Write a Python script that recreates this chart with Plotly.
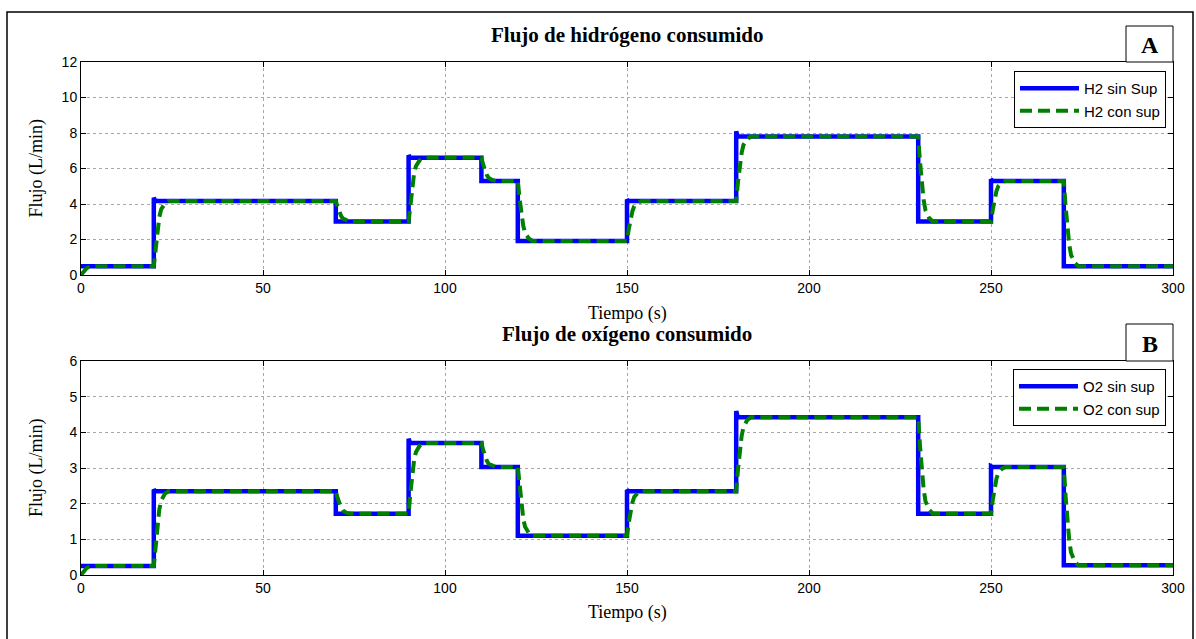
import plotly.graph_objects as go

# ---- data -------------------------------------------------------------
# Hydrogen flow, controller without supervision (step profile with small overshoots)
h2_sin_t = [0, 20, 20, 20.4, 70, 70, 90, 90, 90.4, 110, 110, 120, 120, 150, 150, 150.4,
            180, 180, 180.4, 230, 230, 250, 250, 250.4, 270, 270, 300]
h2_sin_y = [0.5, 0.5, 4.35, 4.17, 4.17, 3.02, 3.02, 6.75, 6.6, 6.6, 5.3, 5.3, 1.92, 1.92, 4.25, 4.17,
            4.17, 8.1, 7.8, 7.8, 3.02, 3.02, 5.4, 5.3, 5.3, 0.5, 0.5]

# Hydrogen flow, supervised controller (smooth transitions)
h2_con_t = [0, 0.5, 1, 1.5, 2, 3, 4,
            20, 20.5, 21, 21.5, 22, 23, 24,
            70, 70.5, 71, 71.5, 72, 73, 74,
            90, 90.5, 91, 91.5, 92, 93, 94,
            110, 110.5, 111, 111.5, 112, 113, 114,
            120, 120.5, 121, 121.5, 122, 123, 124,
            150, 150.5, 151, 151.5, 152, 153, 154,
            180, 180.5, 181, 181.5, 182, 183, 184,
            230, 230.5, 231, 231.5, 232, 233, 234,
            250, 250.5, 251, 251.5, 252, 253, 254,
            270, 270.5, 271, 271.5, 272, 273, 274,
            300]
h2_con_y = [0.0, 0.15, 0.28, 0.37, 0.43, 0.48, 0.5,
            0.5, 1.6, 2.52, 3.25, 3.69, 4.02, 4.17,
            4.17, 3.83, 3.54, 3.31, 3.17, 3.07, 3.02,
            3.02, 4.09, 4.99, 5.71, 6.13, 6.46, 6.6,
            6.6, 6.21, 5.89, 5.63, 5.47, 5.35, 5.3,
            5.3, 4.29, 3.44, 2.77, 2.36, 2.06, 1.92,
            1.92, 2.6, 3.16, 3.61, 3.88, 4.08, 4.17,
            4.17, 5.26, 6.17, 6.89, 7.33, 7.65, 7.8,
            7.8, 6.37, 5.17, 4.22, 3.64, 3.21, 3.02,
            3.02, 3.7, 4.27, 4.73, 5.0, 5.21, 5.3,
            5.3, 3.86, 2.66, 1.7, 1.12, 0.69, 0.5,
            0.5]

# Oxygen flow, controller without supervision
o2_sin_t = [0, 20, 20, 20.4, 70, 70, 90, 90, 90.4, 110, 110, 120, 120, 150, 150, 150.4,
            180, 180, 180.4, 230, 230, 250, 250, 250.4, 270, 270, 300]
o2_sin_y = [0.25, 0.25, 2.4, 2.35, 2.35, 1.72, 1.72, 3.82, 3.7, 3.7, 3.03, 3.03, 1.1, 1.1, 2.38, 2.35,
            2.35, 4.6, 4.42, 4.42, 1.72, 1.72, 3.05, 3.03, 3.03, 0.27, 0.27]

# Oxygen flow, supervised controller
o2_con_t = h2_con_t
o2_con_y = [0.0, 0.08, 0.14, 0.19, 0.22, 0.24, 0.25,
            0.25, 0.88, 1.41, 1.83, 2.08, 2.27, 2.35,
            2.35, 2.16, 2.0, 1.88, 1.8, 1.74, 1.72,
            1.72, 2.31, 2.81, 3.21, 3.44, 3.62, 3.7,
            3.7, 3.5, 3.33, 3.2, 3.12, 3.06, 3.03,
            3.03, 2.45, 1.97, 1.58, 1.35, 1.18, 1.1,
            1.1, 1.48, 1.79, 2.04, 2.19, 2.3, 2.35,
            2.35, 2.97, 3.49, 3.9, 4.15, 4.34, 4.42,
            4.42, 3.61, 2.94, 2.4, 2.07, 1.83, 1.72,
            1.72, 2.11, 2.44, 2.7, 2.86, 2.98, 3.03,
            3.03, 2.2, 1.51, 0.96, 0.63, 0.38, 0.27,
            0.27]

x_ticks = [0, 50, 100, 150, 200, 250, 300]
h2_ticks = [0, 2, 4, 6, 8, 10, 12]
o2_ticks = [0, 1, 2, 3, 4, 5, 6]

# ---- page geometry (pixels) ------------------------------------------
W, H = 1196, 639
L, R = 81, 1173          # plot left / right
TOP_A, BOT_A = 62, 275
TOP_B, BOT_B = 361, 575


def px(x):
    return (x - L) / (R - L)


def py(y):
    return (BOT_B - y) / (BOT_B - TOP_A)


SERIF = "Liberation Serif, Times New Roman, serif"
SANS = "Liberation Sans, Arial, sans-serif"
BLUE = "#0000ff"
GREEN = "#008000"

fig = go.Figure()
fig.add_trace(go.Scatter(x=h2_sin_t, y=h2_sin_y, mode="lines", name="H2 sin Sup",
                         line=dict(color=BLUE, width=4.5), xaxis="x", yaxis="y", legend="legend"))
fig.add_trace(go.Scatter(x=h2_con_t, y=h2_con_y, mode="lines", name="H2 con sup",
                         line=dict(color=GREEN, width=4, dash="12px,6px"),
                         xaxis="x", yaxis="y", legend="legend"))
fig.add_trace(go.Scatter(x=o2_sin_t, y=o2_sin_y, mode="lines", name="O2 sin sup",
                         line=dict(color=BLUE, width=4.5), xaxis="x2", yaxis="y2", legend="legend2"))
fig.add_trace(go.Scatter(x=o2_con_t, y=o2_con_y, mode="lines", name="O2 con sup",
                         line=dict(color=GREEN, width=4, dash="12px,6px"),
                         xaxis="x2", yaxis="y2", legend="legend2"))

axis_common = dict(
    showline=True, linecolor="black", linewidth=1, mirror="ticks",
    ticks="inside", ticklen=5, tickcolor="black", tickwidth=1,
    showgrid=True, gridcolor="#a8a8a8", griddash="dot", gridwidth=1,
    zeroline=False, tickfont=dict(family=SANS, size=14, color="black"),
)

legend_common = dict(
    xanchor="right", yanchor="top", bgcolor="white", bordercolor="black",
    borderwidth=1, font=dict(family=SANS, size=15, color="black"),
    itemwidth=59, tracegroupgap=0, traceorder="normal",
)

fig.update_layout(
    width=W, height=H,
    margin=dict(l=L, r=W - R, t=TOP_A, b=H - BOT_B),
    paper_bgcolor="white", plot_bgcolor="white",
    xaxis=dict(axis_common, domain=[0, 1], anchor="y", range=[0, 300], tickvals=x_ticks),
    yaxis=dict(axis_common, domain=[py(BOT_A), 1], anchor="x", range=[0, 12], tickvals=h2_ticks),
    xaxis2=dict(axis_common, domain=[0, 1], anchor="y2", range=[0, 300], tickvals=x_ticks),
    yaxis2=dict(axis_common, domain=[0, py(TOP_B)], anchor="x2", range=[0, 6], tickvals=o2_ticks),
    legend=dict(legend_common, x=px(1166), y=py(71)),
    legend2=dict(legend_common, x=px(1166), y=py(369)),
    showlegend=True,
)

annotations = []
shapes = []

# panel titles
for text, yc in [("<b>Flujo de hidrógeno consumido</b>", 35), ("<b>Flujo de oxígeno consumido</b>", 334)]:
    annotations.append(dict(text=text, x=0.5, y=py(yc), xref="paper", yref="paper",
                            xanchor="center", yanchor="middle", showarrow=False,
                            font=dict(family=SERIF, size=21, color="black")))

# axis titles
for yc in [313, 612]:
    annotations.append(dict(text="Tiempo (s)", x=0.5, y=py(yc), xref="paper", yref="paper",
                            xanchor="center", yanchor="middle", showarrow=False,
                            font=dict(family=SERIF, size=18, color="black")))
for yc in [(TOP_A + BOT_A) / 2, (TOP_B + BOT_B) / 2]:
    annotations.append(dict(text="Flujo (L/min)", x=px(36), y=py(yc), xref="paper", yref="paper",
                            xanchor="center", yanchor="middle", showarrow=False, textangle=-90,
                            font=dict(family=SERIF, size=18, color="black")))

# panel letters in boxes
for letter, y0, y1 in [("A", 26, TOP_A), ("B", 324, TOP_B)]:
    shapes.append(dict(type="rect", xref="paper", yref="paper",
                       x0=px(1126), x1=px(R), y0=py(y1), y1=py(y0),
                       line=dict(color="black", width=1), fillcolor="white", layer="above"))
    annotations.append(dict(text="<b>%s</b>" % letter, x=px((1126 + R) / 2), y=py((y0 + y1) / 2 + 1),
                            xref="paper", yref="paper", xanchor="center", yanchor="middle",
                            showarrow=False, font=dict(family=SERIF, size=24, color="black")))

# outer frame (bottom edge runs past the page)
shapes.append(dict(type="rect", xref="paper", yref="paper",
                   x0=px(7), x1=px(1193), y0=py(650), y1=py(12),
                   line=dict(color="black", width=1.5), fillcolor="rgba(0,0,0,0)", layer="above"))

fig.update_layout(annotations=annotations, shapes=shapes)

fig.write_html("out.html")
